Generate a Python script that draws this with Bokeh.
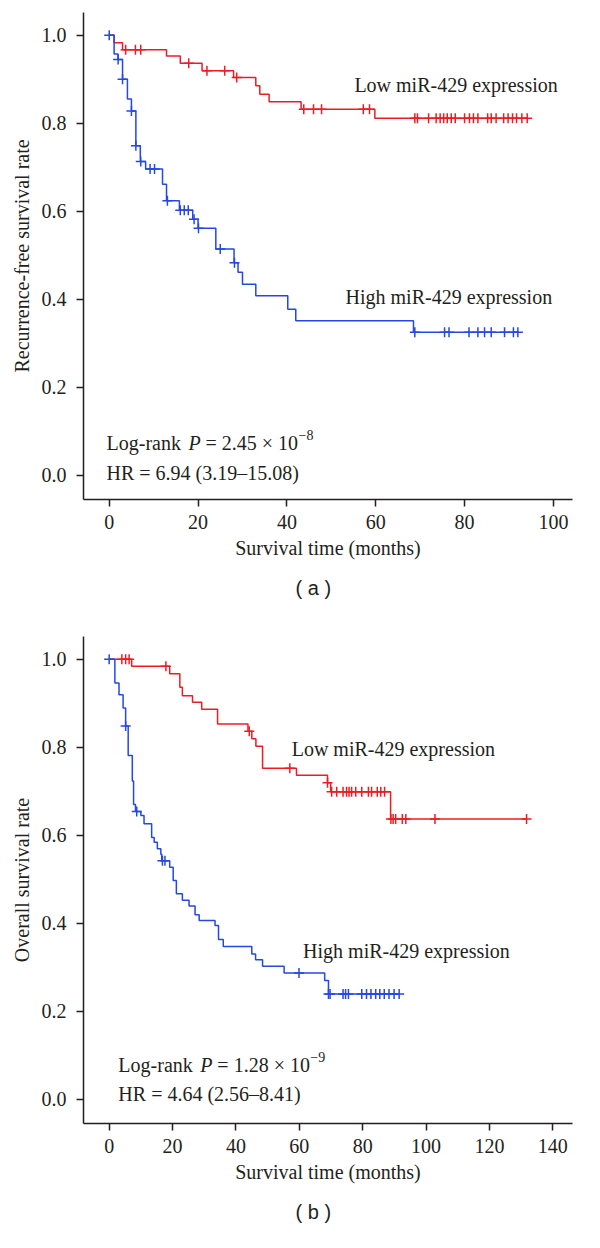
from bokeh.plotting import figure
from bokeh.models import Range1d, FixedTicker, Label, NumeralTickFormatter, Title
from bokeh.layouts import column
from bokeh.embed import file_html
from bokeh.resources import INLINE

# ---------------- data ----------------
# Panel (a): recurrence-free survival
a_low_event_t = [1.1, 3.0, 12.9, 16.0, 20.9, 28.0, 33.0, 33.9, 36.0, 43.2, 59.8]
a_low_event_s = [0.983, 0.967, 0.953, 0.936, 0.919, 0.904, 0.885, 0.866, 0.849, 0.832, 0.811]
a_low_censor_t = [3.7, 5.9, 7.1, 17.9, 22.0, 26.0, 28.7, 43.8, 46.0, 47.8, 57.2, 58.6,
                  68.8, 69.4, 71.9, 73.6, 74.5, 75.3, 76.1, 77.0, 77.9, 80.0, 81.1, 82.0,
                  83.0, 85.2, 86.0, 87.1, 88.8, 89.8, 90.8, 91.7, 92.9, 94.1]

a_high_event_t = [1.1, 2.0, 3.0, 4.1, 5.0, 6.0, 7.0, 8.2, 12.0, 12.9, 15.8, 18.8, 20.0,
                  24.0, 28.1, 29.0, 30.0, 33.0, 40.2, 42.0, 68.5]
a_high_event_s = [0.957, 0.945, 0.900, 0.855, 0.828, 0.749, 0.713, 0.696, 0.661, 0.624,
                  0.602, 0.582, 0.561, 0.514, 0.483, 0.461, 0.434, 0.408, 0.377, 0.351, 0.325]
a_high_censor_t = [0.0, 2.0, 3.0, 5.0, 6.0, 7.1, 9.2, 10.2, 13.1, 16.0, 16.9, 17.8, 19.1,
                   20.1, 25.0, 28.2, 68.8, 75.5, 76.5, 81.0, 83.0, 84.5, 86.0, 89.0, 91.0, 92.0]

# Panel (b): overall survival
b_low_event_t = [7.1, 19.1, 22.3, 23.1, 26.3, 29.2, 34.2, 43.8, 45.0, 46.3, 48.4, 59.1,
                 68.9, 69.9, 88.8]
b_low_event_s = [0.984, 0.967, 0.936, 0.917, 0.902, 0.886, 0.853, 0.836, 0.819, 0.802,
                 0.752, 0.736, 0.719, 0.699, 0.637]
b_low_censor_t = [4.0, 5.2, 6.3, 17.9, 44.2, 57.0, 68.9, 70.2, 71.8, 73.8, 74.9, 75.7,
                  76.5, 77.8, 79.7, 81.8, 82.8, 84.6, 85.7, 86.9, 88.9, 89.6, 90.4, 92.5,
                  93.6, 102.8, 131.7]

b_high_event_t = [1.8, 3.1, 4.4, 5.2, 6.0, 7.3, 7.7, 8.3, 10.0, 11.0, 13.4, 14.2, 15.2,
                  16.3, 16.6, 19.1, 20.2, 21.2, 23.1, 25.2, 27.1, 28.4, 33.4, 34.5, 36.0,
                  45.0, 46.2, 48.4, 55.2, 68.0, 69.2]
b_high_event_s = [0.946, 0.919, 0.889, 0.848, 0.781, 0.723, 0.670, 0.654, 0.645, 0.626,
                  0.595, 0.584, 0.569, 0.557, 0.542, 0.527, 0.497, 0.467, 0.452, 0.439,
                  0.419, 0.406, 0.395, 0.363, 0.347, 0.330, 0.317, 0.302, 0.287, 0.270, 0.239]
b_high_censor_t = [0.0, 5.2, 8.7, 16.8, 17.6, 59.9, 69.2, 69.7, 73.8, 74.6, 75.5, 79.7,
                   81.2, 82.6, 84.1, 85.4, 86.8, 88.3, 89.9, 91.5]

a_xticks = [0, 20, 40, 60, 80, 100]
b_xticks = [0, 20, 40, 60, 80, 100, 120, 140]
yticks = [0.0, 0.2, 0.4, 0.6, 0.8, 1.0]

a_ylabel = "Recurrence-free survival rate"
b_ylabel = "Overall survival rate"
xlabel = "Survival time (months)"
low_label = "Low miR-429 expression"
high_label = "High miR-429 expression"
a_p_mant, a_p_exp, a_hr = "2.45", "\u22128", "HR = 6.94 (3.19\u201315.08)"
b_p_mant, b_p_exp, b_hr = "1.28", "\u22129", "HR = 4.64 (2.56\u20138.41)"
a_tag, b_tag = "( a )", "( b )"

# ---------------- style ----------------
SERIF = "Liberation Serif"
SANS = "Liberation Sans"
FS = "20px"
TXT = "#231f20"
RED = "#ed1c24"
BLUE = "#2447e5"
YR = (-0.0552, 1.0516)


def km_path(ev_t, ev_s, cens_t):
    end = max(max(ev_t), max(cens_t))
    xs = [0.0] + list(ev_t) + [end]
    ys = [1.0] + list(ev_s) + [ev_s[-1]]
    return xs, ys


def level_at(t, ev_t, ev_s):
    s = 1.0
    for et, es in zip(ev_t, ev_s):
        if et <= t:
            s = es
    return s


def add_curve(p, ev_t, ev_s, cens_t, color):
    xs, ys = km_path(ev_t, ev_s, cens_t)
    p.step(xs, ys, mode="after", line_color=color, line_width=1.5)
    cy = [level_at(t, ev_t, ev_s) for t in cens_t]
    p.scatter(cens_t, cy, marker="cross", size=10, line_color=color, line_width=1.5)


def txt(p, x, y, text, **kw):
    d = dict(x=x, y=y, text=text, text_font=SERIF, text_font_size=FS,
             text_color=TXT, text_baseline="middle", text_align="left")
    d.update(kw)
    p.add_layout(Label(**d))


def add_stats(p, x, y_p, y_hr, mant, expo, hr):
    txt(p, x, y_p, "Log-rank")
    txt(p, x, y_p, "P", x_offset=82, text_font_style="italic")
    txt(p, x, y_p, "= " + mant + " \u00d7 10", x_offset=99)
    txt(p, x, y_p, expo, x_offset=192, y_offset=8, text_font_size="14px")
    txt(p, x, y_hr, hr)


def make_panel(height, border_bottom, xr, xticks, ylabel, tag):
    p = figure(width=584, height=height, output_backend="svg", toolbar_location=None,
               x_range=Range1d(*xr), y_range=Range1d(*YR),
               min_border_left=83, min_border_right=12, min_border_top=12,
               min_border_bottom=border_bottom)
    p.outline_line_color = None
    p.grid.visible = False
    p.background_fill_color = "white"
    p.border_fill_color = "white"
    for ax in (p.xaxis[0], p.yaxis[0]):
        ax.axis_line_color = TXT
        ax.axis_line_width = 1.5
        ax.major_tick_line_color = TXT
        ax.major_tick_line_width = 1.5
        ax.major_tick_out = 7
        ax.major_tick_in = 0
        ax.minor_tick_out = 0
        ax.minor_tick_in = 0
        ax.major_label_text_font = SERIF
        ax.major_label_text_font_size = FS
        ax.major_label_text_color = TXT
        ax.axis_label_text_font = SERIF
        ax.axis_label_text_font_size = FS
        ax.axis_label_text_font_style = "normal"
        ax.axis_label_text_color = TXT
    p.xaxis.ticker = FixedTicker(ticks=xticks)
    p.yaxis.ticker = FixedTicker(ticks=yticks)
    p.yaxis.formatter = NumeralTickFormatter(format="0.0")
    p.xaxis.major_label_standoff = 8
    p.yaxis.major_label_standoff = 10
    p.xaxis.axis_label = xlabel
    p.yaxis.axis_label = ylabel
    p.xaxis.axis_label_standoff = 5
    p.yaxis.axis_label_standoff = 6
    p.add_layout(Title(text=tag, align="left", offset=212, standoff=26,
                       text_font=SANS, text_font_size="20px", text_font_style="normal",
                       text_color=TXT), "below")
    return p


# Panel (a)
pa = make_panel(624, 125, (-5.79, 104.3), a_xticks, a_ylabel, a_tag)
add_curve(pa, a_low_event_t, a_low_event_s, a_low_censor_t, RED)
add_curve(pa, a_high_event_t, a_high_event_s, a_high_censor_t, BLUE)
txt(pa, 55.2, 0.886, low_label)
txt(pa, 53.2, 0.404, high_label)
add_stats(pa, -0.6, 0.074, 0.006, a_p_mant, a_p_exp, a_hr)

# Panel (b)
pb = make_panel(616, 117, (-8.1, 146.2), b_xticks, b_ylabel, b_tag)
add_curve(pb, b_low_event_t, b_low_event_s, b_low_censor_t, RED)
add_curve(pb, b_high_event_t, b_high_event_s, b_high_censor_t, BLUE)
txt(pb, 57.6, 0.796, low_label)
txt(pb, 61.2, 0.336, high_label)
add_stats(pb, 2.9, 0.078, 0.012, b_p_mant, b_p_exp, b_hr)

layout = column(pa, pb)
open("out.html", "w").write(file_html(layout, INLINE))
